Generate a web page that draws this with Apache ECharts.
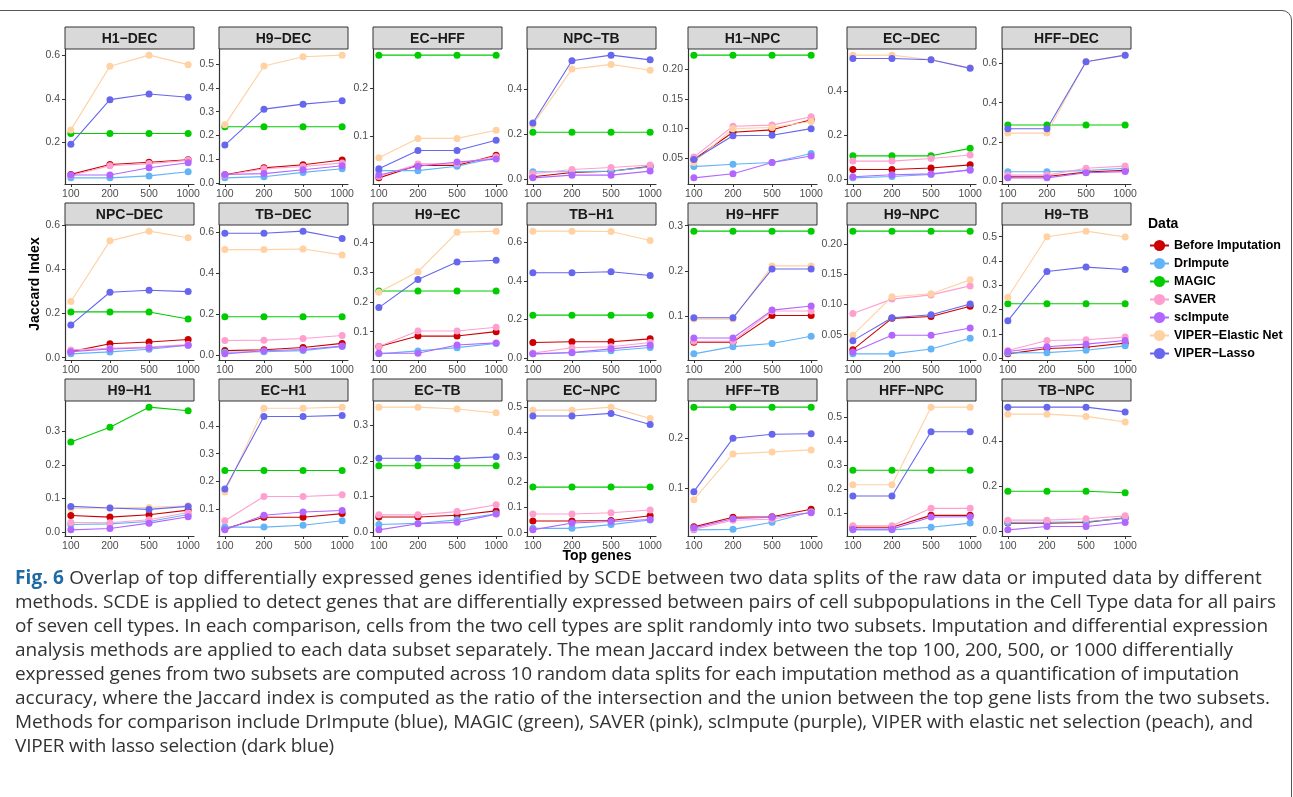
<!DOCTYPE html>
<html><head><meta charset="utf-8">
<script src="https://cdn.jsdelivr.net/npm/echarts@6/dist/echarts.min.js"></script>
<style>
html,body{margin:0;padding:0;background:#fff;}
#wrap{position:relative;width:1293px;height:797px;overflow:hidden;background:#fff;}
#frame{position:absolute;left:-3px;top:10px;width:1295px;height:800px;border:1px solid #555;border-radius:0 10px 0 0;box-sizing:border-box;}
#chart{position:absolute;left:0;top:0;width:1293px;height:572px;}
#caption{position:absolute;left:15px;top:565px;font-family:"Open Sans",sans-serif;font-size:19px;line-height:24px;color:#333;}
#caption div{white-space:nowrap;height:24px;}
#caption span{display:inline-block;white-space:nowrap;}
#caption b{color:#1f6aa5;}
</style></head>
<body><div id="wrap"><div id="frame"></div><div id="chart"></div>
<div id="caption">
<div><span data-w="1247"><b>Fig. 6</b> Overlap of top differentially expressed genes identified by SCDE between two data splits of the raw data or imputed data by different</span></div>
<div><span data-w="1261">methods. SCDE is applied to detect genes that are differentially expressed between pairs of cell subpopulations in the Cell Type data for all pairs</span></div>
<div><span data-w="1253">of seven cell types. In each comparison, cells from the two cell types are split randomly into two subsets. Imputation and differential expression</span></div>
<div><span data-w="1218">analysis methods are applied to each data subset separately. The mean Jaccard index between the top 100, 200, 500, or 1000 differentially</span></div>
<div><span data-w="1224">expressed genes from two subsets are computed across 10 random data splits for each imputation method as a quantification of imputation</span></div>
<div><span data-w="1255">accuracy, where the Jaccard index is computed as the ratio of the intersection and the union between the top gene lists from the two subsets.</span></div>
<div><span data-w="1238">Methods for comparison include DrImpute (blue), MAGIC (green), SAVER (pink), scImpute (purple), VIPER with elastic net selection (peach), and</span></div>
<div><span data-w="319">VIPER with lasso selection (dark blue)</span></div>
</div></div>
<script>
const panelNames = ['H1−DEC','H9−DEC','EC−HFF','NPC−TB','H1−NPC','EC−DEC','HFF−DEC',
  'NPC−DEC','TB−DEC','H9−EC','TB−H1','H9−HFF','H9−NPC','H9−TB',
  'H9−H1','EC−H1','EC−TB','EC−NPC','HFF−TB','HFF−NPC','TB−NPC'];
const topGenes = ['100','200','500','1000'];
const methods = ['Before Imputation','DrImpute','MAGIC','SAVER','scImpute','VIPER−Elastic Net','VIPER−Lasso'];
const colors = ['#CC0000','#63B3F7','#00CC00','#FF9FCF','#B266FF','#FFD1A3','#6666EE'];

const beforeImputation = [
 [0.050,0.096,0.106,0.118],[0.035,0.064,0.077,0.097],[0.013,0.039,0.039,0.060],[0.012,0.031,0.036,0.058],
 [0.048,0.094,0.098,0.115],[0.044,0.044,0.051,0.065],[0.022,0.024,0.046,0.056],
 [0.027,0.063,0.071,0.082],[0.024,0.028,0.039,0.059],[0.050,0.085,0.085,0.100],[0.081,0.085,0.085,0.100],
 [0.042,0.042,0.101,0.101],[0.025,0.077,0.080,0.097],[0.018,0.040,0.045,0.062],
 [0.049,0.044,0.051,0.065],[0.028,0.070,0.070,0.083],[0.043,0.043,0.048,0.060],[0.046,0.046,0.048,0.067],
 [0.023,0.042,0.043,0.058],[0.043,0.043,0.092,0.092],[0.037,0.037,0.040,0.060]];
const drImpute = [
 [0.034,0.034,0.043,0.062],[0.022,0.027,0.045,0.060],[0.028,0.028,0.037,0.055],[0.034,0.034,0.037,0.055],
 [0.036,0.040,0.043,0.058],[0.006,0.012,0.021,0.044],[0.048,0.048,0.054,0.066],
 [0.017,0.026,0.038,0.056],[0.016,0.018,0.024,0.044],[0.025,0.035,0.046,0.060],[0.022,0.028,0.038,0.055],
 [0.016,0.032,0.039,0.055],[0.018,0.018,0.026,0.044],[0.022,0.023,0.033,0.051],
 [0.022,0.024,0.031,0.052],[0.034,0.034,0.041,0.057],[0.022,0.025,0.035,0.052],[0.017,0.017,0.032,0.050],
 [0.017,0.018,0.032,0.053],[0.032,0.032,0.043,0.060],[0.040,0.040,0.043,0.058]];
const magic = [
 [0.239,0.239,0.239,0.239],[0.237,0.237,0.237,0.237],[0.268,0.268,0.268,0.268],[0.209,0.209,0.209,0.209],
 [0.224,0.224,0.224,0.224],[0.106,0.106,0.106,0.140],[0.286,0.286,0.286,0.286],
 [0.207,0.207,0.207,0.175],[0.189,0.189,0.189,0.189],[0.237,0.237,0.237,0.237],[0.223,0.223,0.223,0.223],
 [0.288,0.288,0.288,0.288],[0.222,0.222,0.222,0.222],[0.224,0.224,0.224,0.224],
 [0.268,0.312,0.372,0.361],[0.239,0.239,0.239,0.239],[0.186,0.186,0.186,0.186],[0.181,0.181,0.181,0.181],
 [0.261,0.261,0.261,0.261],[0.279,0.279,0.279,0.279],[0.178,0.178,0.178,0.171]];
const saver = [
 [0.045,0.090,0.100,0.115],[0.033,0.060,0.070,0.085],[0.016,0.042,0.043,0.057],[0.025,0.044,0.053,0.064],
 [0.052,0.104,0.106,0.120],[0.082,0.082,0.094,0.110],[0.031,0.031,0.066,0.077],
 [0.035,0.042,0.048,0.059],[0.073,0.075,0.083,0.098],[0.050,0.102,0.102,0.115],[0.026,0.054,0.059,0.081],
 [0.044,0.044,0.111,0.111],[0.085,0.109,0.116,0.131],[0.032,0.073,0.076,0.087],
 [0.028,0.027,0.036,0.058],[0.057,0.145,0.145,0.151],[0.049,0.049,0.058,0.077],[0.074,0.074,0.079,0.090],
 [0.018,0.036,0.038,0.052],[0.049,0.049,0.121,0.121],[0.050,0.050,0.056,0.069]];
const scImpute = [
 [0.047,0.047,0.081,0.104],[0.036,0.040,0.056,0.073],[0.019,0.037,0.046,0.052],[0.007,0.019,0.019,0.037],
 [0.017,0.024,0.043,0.054],[0.011,0.020,0.024,0.041],[0.017,0.017,0.043,0.049],
 [0.027,0.039,0.045,0.056],[0.008,0.023,0.029,0.046],[0.027,0.027,0.055,0.062],[0.022,0.029,0.048,0.067],
 [0.051,0.051,0.113,0.122],[0.021,0.049,0.049,0.061],[0.028,0.047,0.058,0.073],
 [0.006,0.010,0.026,0.045],[0.024,0.077,0.089,0.094],[0.007,0.024,0.028,0.051],[0.011,0.038,0.044,0.052],
 [0.021,0.039,0.042,0.051],[0.035,0.035,0.085,0.086],[0.007,0.022,0.022,0.040]];
const viperElasticNet = [
 [0.256,0.551,0.602,0.558],[0.245,0.492,0.531,0.538],[0.055,0.095,0.095,0.112],[0.243,0.489,0.510,0.484],
 [0.043,0.100,0.102,0.112],[0.563,0.563,0.542,0.506],[0.245,0.245,0.608,0.642],
 [0.254,0.529,0.573,0.543],[0.517,0.517,0.520,0.491],[0.233,0.302,0.435,0.439],[0.659,0.659,0.657,0.610],
 [0.093,0.093,0.211,0.211],[0.049,0.113,0.118,0.141],[0.251,0.500,0.523,0.499],
 [0.070,0.071,0.073,0.078],[0.161,0.465,0.465,0.469],[0.350,0.350,0.345,0.334],[0.487,0.487,0.499,0.454],
 [0.077,0.168,0.172,0.176],[0.219,0.219,0.540,0.540],[0.519,0.519,0.509,0.484]];
const viperLasso = [
 [0.190,0.396,0.422,0.407],[0.160,0.311,0.332,0.346],[0.032,0.070,0.070,0.091],[0.250,0.526,0.551,0.530],
 [0.048,0.088,0.089,0.100],[0.548,0.548,0.542,0.503],[0.267,0.267,0.608,0.642],
 [0.148,0.296,0.305,0.299],[0.597,0.597,0.607,0.571],[0.181,0.276,0.335,0.341],[0.443,0.443,0.448,0.429],
 [0.096,0.096,0.204,0.204],[0.040,0.078,0.083,0.101],[0.154,0.357,0.375,0.365],
 [0.076,0.071,0.067,0.076],[0.172,0.435,0.435,0.439],[0.207,0.207,0.206,0.211],[0.464,0.464,0.474,0.430],
 [0.093,0.199,0.207,0.208],[0.172,0.172,0.438,0.438],[0.550,0.550,0.550,0.529]];
const yTicks = [
 [0.2,0.4,0.6],[0,0.1,0.2,0.3,0.4,0.5],[0.1,0.2],[0,0.2,0.4],[0.05,0.10,0.15,0.20],[0,0.2,0.4],[0,0.2,0.4,0.6],
 [0,0.2,0.4,0.6],[0,0.2,0.4,0.6],[0.1,0.2,0.3,0.4],[0,0.2,0.4,0.6],[0.1,0.2,0.3],[0.05,0.10,0.15,0.20],[0,0.1,0.2,0.3,0.4,0.5],
 [0,0.1,0.2,0.3],[0.1,0.2,0.3,0.4],[0,0.1,0.2,0.3],[0,0.1,0.2,0.3,0.4,0.5],[0.1,0.2],[0.1,0.2,0.3,0.4,0.5],[0,0.2,0.4]];

const allSeries = [beforeImputation, drImpute, magic, saver, scImpute, viperElasticNet, viperLasso];

// fit caption lines to the reference line lengths
document.querySelectorAll('#caption span').forEach(s=>{
  const target=+s.dataset.w, nat=s.getBoundingClientRect().width, n=s.textContent.length;
  s.style.letterSpacing=((target-nat)/n)+'px';
});

const FONT = '"Liberation Sans", Arial, Helvetica, sans-serif';
const colLeft = [65,219,373,527,688,847,1002];
const rowTop = [49,225,401];
const PW = 129, PH = 135, STRIP = 22;

const grids=[], xAxes=[], yAxes=[], series=[], graphics=[];
panelNames.forEach((name,p)=>{
  const c=p%7, r=Math.floor(p/7);
  const left=colLeft[c], top=rowTop[r];
  grids.push({left:left, top:top, width:PW, height:PH});
  const vals = allSeries.map(s=>s[p]).flat();
  const lo=Math.min(...vals), hi=Math.max(...vals), pad=(hi-lo)*0.05;
  const ymin=lo-pad, ymax=hi+pad;
  const ticks=yTicks[p].filter(v=>v>=ymin-1e-9&&v<=ymax+1e-9);
  const dec = ticks.some(v=>Math.abs(v*10-Math.round(v*10))>1e-9)?2:1;
  const axLine = {show:true,onZero:false,lineStyle:{color:'#333',width:1.2}};
  xAxes.push({type:'value',gridIndex:p,min:0.85,max:4.15,
    axisLine:axLine,
    axisTick:{show:true,length:3,customValues:[1,2,3,4],lineStyle:{color:'#333',width:1}},
    axisLabel:{show:true,customValues:[1,2,3,4],formatter:v=>topGenes[Math.round(v)-1],color:'#4d4d4d',fontSize:10.5,fontFamily:FONT,margin:5},
    splitLine:{show:false}});
  yAxes.push({type:'value',gridIndex:p,min:ymin,max:ymax,
    axisLine:axLine,
    axisTick:{show:true,length:3,customValues:ticks,lineStyle:{color:'#333',width:1}},
    axisLabel:{show:true,customValues:ticks,formatter:v=>v.toFixed(dec),color:'#4d4d4d',fontSize:10.5,fontFamily:FONT,margin:5},
    splitLine:{show:false}});
  methods.forEach((m,k)=>{
    series.push({name:m,type:'line',xAxisIndex:p,yAxisIndex:p,
      data:allSeries[k][p].map((v,i)=>[i+1,v]),
      symbol:'circle',symbolSize:7,showSymbol:true,
      itemStyle:{color:colors[k]},lineStyle:{color:colors[k],width:1.1},
      emphasis:{disabled:true},silent:true});
  });
  graphics.push({type:'rect',shape:{x:left,y:top-STRIP,width:PW,height:STRIP},
    style:{fill:'#d9d9d9',stroke:'#333',lineWidth:1}});
  graphics.push({type:'text',x:left+PW/2,y:top-STRIP/2+1,
    style:{text:name,font:'bold 14px '+FONT,fill:'#1a1a1a',align:'center',verticalAlign:'middle',textAlign:'center',textVerticalAlign:'middle'}});
});
graphics.push({type:'text',x:35,y:284,rotation:Math.PI/2,
  style:{text:'Jaccard Index',font:'bold 14px '+FONT,fill:'#000',align:'center',verticalAlign:'middle',textAlign:'center',textVerticalAlign:'middle'}});
graphics.push({type:'text',x:597,y:556,
  style:{text:'Top genes',font:'bold 14px '+FONT,fill:'#000',align:'center',verticalAlign:'middle',textAlign:'center',textVerticalAlign:'middle'}});
graphics.push({type:'text',x:1148,y:224,
  style:{text:'Data',font:'bold 14px '+FONT,fill:'#000',align:'left',verticalAlign:'middle',textAlign:'left',textVerticalAlign:'middle'}});

const chart = echarts.init(document.getElementById('chart'),null,{renderer:'canvas'});
chart.setOption({
  animation:false,
  backgroundColor:'transparent',
  grid:grids, xAxis:xAxes, yAxis:yAxes, series:series,
  legend:{data:methods,orient:'vertical',left:1144,top:234,itemWidth:19,itemHeight:14,itemGap:5,
    textStyle:{fontFamily:FONT,fontWeight:'bold',fontSize:12.5,color:'#000'},selectedMode:false},
  graphic:graphics
});
</script></body></html>
